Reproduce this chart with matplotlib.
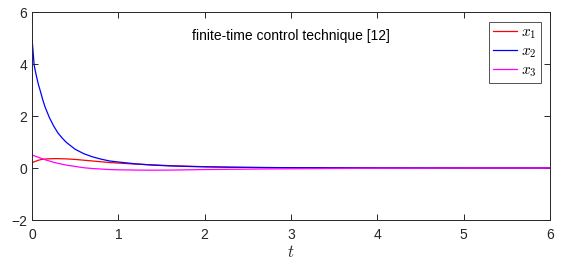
import matplotlib
matplotlib.use("Agg")
import matplotlib.pyplot as plt

t = [0.0, 0.025, 0.05, 0.075, 0.1, 0.125, 0.15, 0.2, 0.25, 0.3, 0.35, 0.4, 0.5, 0.6, 0.7, 0.8, 0.9, 1.0,
     1.2, 1.4, 1.6, 1.8, 2.0, 2.3, 2.6, 3.0, 3.5, 4.0, 5.0, 6.0]
x1 = [0.20, 0.24, 0.27, 0.30, 0.32, 0.335, 0.345, 0.355, 0.36, 0.36, 0.355, 0.35, 0.33, 0.30, 0.27, 0.24, 0.21, 0.19,
      0.15, 0.12, 0.09, 0.07, 0.05, 0.03, 0.02, 0.01, 0.005, 0.0, 0.0, 0.0]
x2 = [5.0, 3.95, 3.55, 3.2, 2.92, 2.62, 2.36, 1.95, 1.62, 1.35, 1.15, 0.98, 0.72, 0.55, 0.43, 0.34, 0.27, 0.23,
      0.16, 0.11, 0.08, 0.06, 0.045, 0.03, 0.02, 0.012, 0.007, 0.004, 0.0, 0.0]
x3 = [0.50, 0.47, 0.44, 0.41, 0.38, 0.35, 0.32, 0.27, 0.22, 0.18, 0.145, 0.11, 0.06, 0.01, -0.02, -0.04, -0.06, -0.07,
      -0.08, -0.085, -0.08, -0.07, -0.06, -0.05, -0.04, -0.03, -0.018, -0.01, -0.003, 0.0]

plt.rcParams['font.family'] = ['Liberation Sans', 'DejaVu Sans']
plt.rcParams['mathtext.fontset'] = 'cm'

fig = plt.figure(figsize=(5.72, 2.59), dpi=100)
ax = fig.add_axes([32/572, 1-220/259, (550-32)/572, (220-12)/259])

ax.plot(t, x1, color='red', lw=0.9, label='$x_1$')
ax.plot(t, x2, color='blue', lw=0.9, label='$x_2$')
ax.plot(t, x3, color='magenta', lw=0.9, label='$x_3$')

ax.set_xlim(0, 6)
ax.set_ylim(-2, 6)
ax.set_xticks([0, 1, 2, 3, 4, 5, 6])
ax.set_yticks([-2, 0, 2, 4, 6])
ax.tick_params(direction='in', top=True, right=True, labelsize=10, length=4,
               width=0.7, color='#262626', labelcolor='#262626')
ax.tick_params(axis='x', pad=6)
ax.tick_params(axis='y', pad=3.5)
for s in ax.spines.values():
    s.set_linewidth(0.7)
    s.set_color('#262626')

ax.set_xlabel('$t$', fontsize=12, labelpad=1, color='#262626')
ax.text(0.5, 0.886, 'finite-time control technique [12]', transform=ax.transAxes,
        ha='center', va='center', fontsize=10, color='black')

leg = ax.legend(loc='upper right', bbox_to_anchor=(1 - 9.5/518, 1 - 10/208), fontsize=11,
                frameon=True, fancybox=False, edgecolor='#262626', handlelength=1.6,
                borderpad=0.25, labelspacing=0.2, handletextpad=0.25, borderaxespad=0)
leg.get_frame().set_linewidth(0.7)

fig.savefig('out.png', dpi=100)
